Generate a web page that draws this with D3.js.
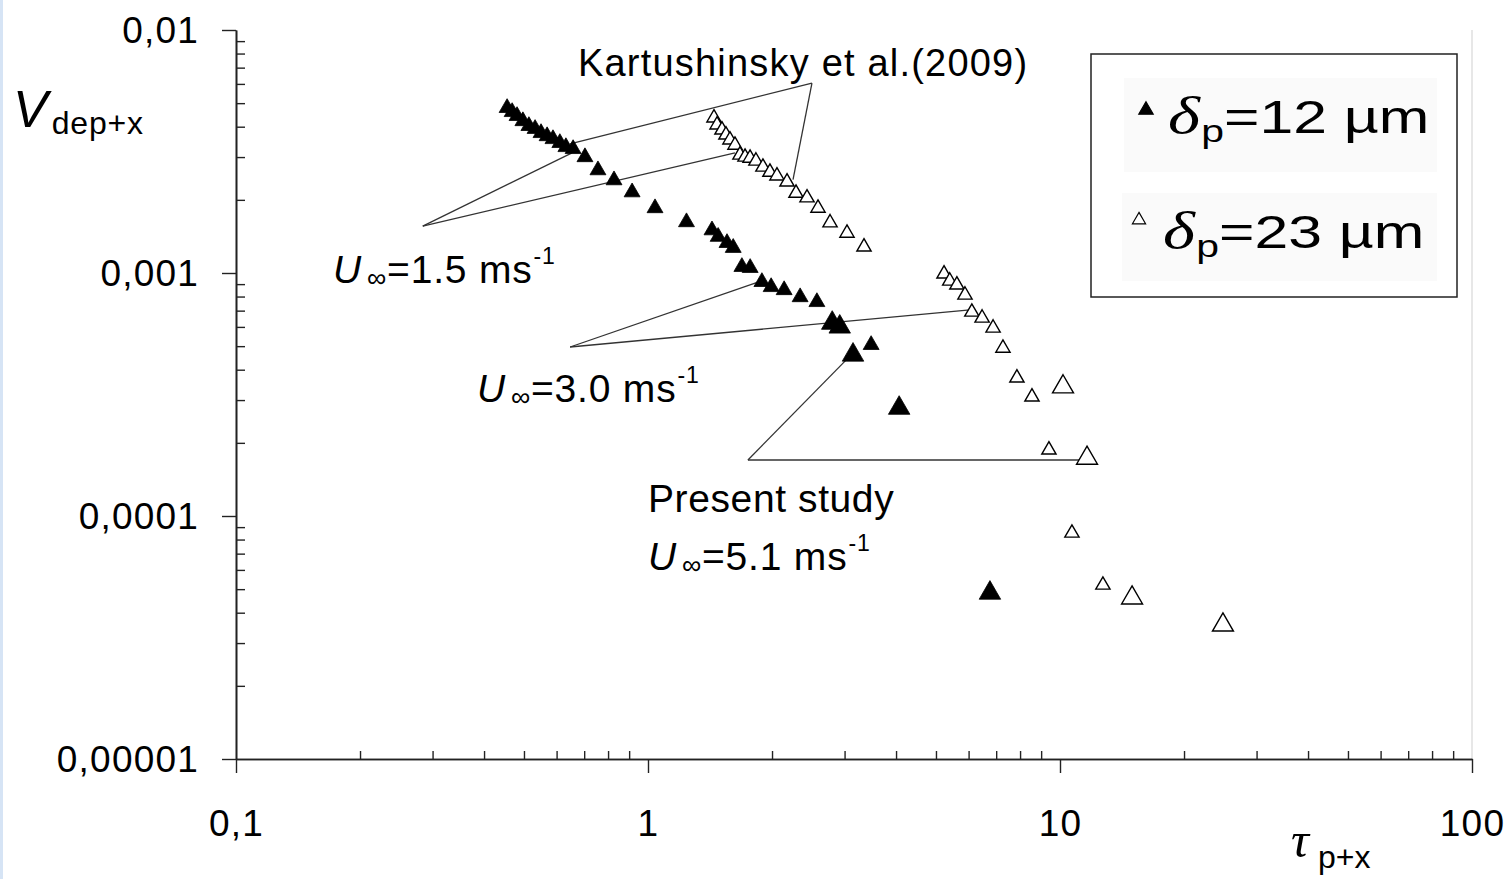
<!DOCTYPE html>
<html>
<head>
<meta charset="utf-8">
<script src="https://cdn.jsdelivr.net/npm/d3@7"></script>
<style>
  body { margin: 0; background: #fff; }
  text { font-family: "Liberation Sans", Arial, sans-serif; fill: #000; }
</style>
</head>
<body>
<div id="wrapper"></div>
<script>
// Kartushinsky et al.(2009), 12 um, U = 1.5 m/s
const k12u15Tau = [0.455, 0.468, 0.481, 0.497, 0.514, 0.532, 0.550, 0.569, 0.588, 0.611, 0.632, 0.658, 0.703, 0.756, 0.827, 0.915, 1.04, 1.24];
const k12u15V = [0.00478, 0.00460, 0.00443, 0.00422, 0.00403, 0.00392, 0.00377, 0.00366, 0.00356, 0.00343, 0.00330, 0.00324, 0.00300, 0.00265, 0.00241, 0.00215, 0.00185, 0.00162];
// Kartushinsky et al.(2009), 12 um, U = 3.0 m/s
const k12u30Tau = [1.43, 1.48, 1.555, 1.61, 1.69, 1.77, 1.89, 1.99, 2.14, 2.34, 2.57, 3.48];
const k12u30V = [0.00150, 0.00141, 0.00133, 0.00127, 0.00106, 0.00105, 0.000919, 0.000876, 0.000851, 0.000796, 0.000760, 0.000506];
// Kartushinsky et al.(2009), 23 um, U = 1.5 m/s
const k23u15Tau = [1.446, 1.471, 1.512, 1.546, 1.581, 1.626, 1.672, 1.72, 1.769, 1.828, 1.901, 1.977, 2.056, 2.175, 2.287, 2.432, 2.586, 2.766, 3.041, 3.344];
const k23u15V = [0.00435, 0.00407, 0.00388, 0.00370, 0.00353, 0.00336, 0.00306, 0.00300, 0.00297, 0.00289, 0.00273, 0.00260, 0.00251, 0.00237, 0.00213, 0.00204, 0.00185, 0.00161, 0.00146, 0.00128];
// Kartushinsky et al.(2009), 23 um, U = 3.0 m/s
const k23u30Tau = [5.23, 5.40, 5.62, 5.88, 6.11, 6.47, 6.88, 7.27, 7.86, 8.55, 9.40, 10.69, 12.71];
const k23u30V = [0.000991, 0.000927, 0.000893, 0.000812, 0.000691, 0.000653, 0.000594, 0.000491, 0.000370, 0.000309, 0.000187, 0.0000851, 0.0000520];
// Present study, U = 5.1 m/s
const p12Tau = [2.80, 2.92, 3.145, 4.07, 6.76];
const p12V = [0.000622, 0.000600, 0.000460, 0.000278, 0.0000482];
const p23Tau = [10.17, 11.63, 14.96, 24.86];
const p23V = [0.000340, 0.000173, 0.0000460, 0.0000356];

const xMajor = [0.1, 1, 10, 100];
const xTickLabels = ["0,1", "1", "10", "100"];
const yMajor = [0.00001, 0.0001, 0.001, 0.01];
const yTickLabels = ["0,00001", "0,0001", "0,001", "0,01"];

// leader lines: apex then the end (data units)
const leaders = [
    [[2.50, 0.00605], [0.647, 0.00340]],
    [[2.50, 0.00605], [2.249, 0.00242]],
    [[0.284, 0.00156], [0.654, 0.00312]],
    [[0.284, 0.00156], [1.626, 0.00312]],
    [[0.647, 0.000496], [1.849, 0.000918]],
    [[0.647, 0.000496], [6.047, 0.000705]],
    [[1.748, 0.000170], [3.024, 0.000438]],
    [[1.748, 0.000170], [11.5, 0.000170]]
];

function drawChart() {
    const dimension = {
        width: 1507,
        height: 879,
        left: 236,
        right: 1472,
        top: 30,
        bottom: 759
    };

    const svg = d3.select("#wrapper").append("svg")
        .attr("width", dimension.width)
        .attr("height", dimension.height);

    // faint blue page edge on the left
    svg.append("rect").attr("x", 0).attr("y", 0).attr("width", 3).attr("height", dimension.height).attr("fill", "#d6e4f5");

    const xScaler = d3.scaleLog().domain([0.1, 100]).range([dimension.left, dimension.right]);
    const yScaler = d3.scaleLog().domain([0.00001, 0.01]).range([dimension.bottom, dimension.top]);

    const xMinor = [], yMinor = [];
    [0.1, 1, 10].forEach(d => d3.range(2, 10).forEach(k => xMinor.push(d * k)));
    [0.00001, 0.0001, 0.001].forEach(d => d3.range(2, 10).forEach(k => yMinor.push(d * k)));

    // right border of plot area
    svg.append("line")
        .attr("x1", xScaler(100)).attr("x2", xScaler(100))
        .attr("y1", yScaler(0.01)).attr("y2", yScaler(0.00001))
        .attr("stroke", "#cfcfcf").attr("stroke-width", 1);

    // minor ticks, inside
    svg.append("g")
        .attr("transform", `translate(0,${dimension.bottom})`)
        .call(d3.axisBottom(xScaler).tickValues(xMinor).tickSize(-8).tickSizeOuter(0).tickFormat(""));
    svg.append("g")
        .attr("transform", `translate(${dimension.left},0)`)
        .call(d3.axisLeft(yScaler).tickValues(yMinor).tickSize(-9).tickSizeOuter(0).tickFormat(""));

    const xAxis = svg.append("g")
        .attr("transform", `translate(0,${dimension.bottom})`)
        .call(d3.axisBottom(xScaler).tickValues(xMajor).tickSize(14).tickSizeOuter(0).tickPadding(37)
            .tickFormat((d, i) => xTickLabels[i]));
    const yAxis = svg.append("g")
        .attr("transform", `translate(${dimension.left},0)`)
        .call(d3.axisLeft(yScaler).tickValues(yMajor).tickSize(14).tickSizeOuter(0).tickPadding(23)
            .tickFormat((d, i) => yTickLabels[i]));

    svg.selectAll(".domain").attr("stroke", "#222").attr("stroke-width", 1.6);
    svg.selectAll(".tick line").attr("stroke", "#222").attr("stroke-width", 1.4);
    [xAxis, yAxis].forEach(a => a.attr("font-family", "Liberation Sans, Arial, sans-serif")
        .attr("font-size", 37).selectAll("text").attr("fill", "#000").attr("letter-spacing", 1.2));
    yAxis.selectAll("text").attr("dy", "0.34em");

    // axis titles
    const yTitle = svg.append("text").attr("x", 13).attr("y", 127);
    yTitle.append("tspan").attr("font-size", 52).attr("font-style", "italic").text("V");
    yTitle.append("tspan").attr("font-size", 32).attr("dx", 4).attr("dy", 7).attr("letter-spacing", 0.8).text("dep+x");

    const xTitle = svg.append("text").attr("x", 1291).attr("y", 857);
    xTitle.append("tspan").attr("font-family", "Liberation Serif, serif").attr("font-style", "italic")
        .attr("font-size", 50).text("τ");
    xTitle.append("tspan").attr("font-size", 32).attr("dx", 9).attr("dy", 11).text("p+x");

    // leader lines
    svg.append("g").selectAll("line")
        .data(leaders)
        .join("line")
        .attr("x1", d => xScaler(d[0][0])).attr("y1", d => yScaler(d[0][1]))
        .attr("x2", d => xScaler(d[1][0])).attr("y2", d => yScaler(d[1][1]))
        .attr("stroke", "#333").attr("stroke-width", 1.3);

    // annotation labels
    svg.append("text").attr("x", xScaler(0.676)).attr("y", yScaler(0.00647))
        .attr("font-size", 38).attr("letter-spacing", 1.2).text("Kartushinsky et al.(2009)");

    function speedLabel(tx, ty, value) {
        const t = svg.append("text").attr("x", xScaler(tx)).attr("y", yScaler(ty))
            .attr("font-size", 39).attr("letter-spacing", 0.8);
        t.append("tspan").attr("font-style", "italic").text("U");
        t.append("tspan").attr("font-size", 27).attr("dx", 5).attr("dy", 4).text("∞");
        t.append("tspan").attr("dy", -4).text("=" + value + " ms");
        t.append("tspan").attr("font-size", 23).attr("dx", 1).attr("dy", -19).text("-1");
    }
    speedLabel(0.172, 0.000909, "1.5");
    speedLabel(0.3846, 0.000294, "3.0");
    svg.append("text").attr("x", xScaler(1)).attr("y", yScaler(0.0001039))
        .attr("font-size", 39).attr("letter-spacing", 0.6).text("Present study");
    speedLabel(1, 0.00006, "5.1");

    // markers
    const triangle = (size) => d3.symbol().type(d3.symbolTriangle).size(size)();
    const series = [
        { tau: k12u15Tau, v: k12u15V, size: 110, filled: true },
        { tau: k12u30Tau, v: k12u30V, size: 110, filled: true },
        { tau: p12Tau, v: p12V, size: 200, filled: true },
        { tau: k23u15Tau, v: k23u15V, size: 88, filled: false },
        { tau: k23u30Tau, v: k23u30V, size: 88, filled: false },
        { tau: p23Tau, v: p23V, size: 190, filled: false }
    ];
    series.forEach(s => {
        svg.append("g").selectAll("path")
            .data(d3.zip(s.tau, s.v))
            .join("path")
            .attr("transform", d => `translate(${xScaler(d[0])},${yScaler(d[1])})`)
            .attr("d", triangle(s.size))
            .attr("fill", s.filled ? "#000" : "#fff")
            .attr("stroke", "#000")
            .attr("stroke-width", s.filled ? 0.8 : 1.4);
    });

    // legend
    const legend = svg.append("g");
    legend.append("rect").attr("x", 1091).attr("y", 54).attr("width", 366).attr("height", 243)
        .attr("fill", "#fff").attr("stroke", "#222").attr("stroke-width", 1.5);
    legend.append("rect").attr("x", 1124).attr("y", 78).attr("width", 313).attr("height", 94).attr("fill", "#fafafa");
    legend.append("rect").attr("x", 1122).attr("y", 193).attr("width", 315).attr("height", 88).attr("fill", "#fafafa");

    const legendItems = [
        { label: "=12 µm", filled: true, mx: 1146, my: 110, tx: 1168, ty: 133 },
        { label: "=23 µm", filled: false, mx: 1139, my: 220, tx: 1163, ty: 248 }
    ];
    legendItems.forEach(it => {
        legend.append("path")
            .attr("transform", `translate(${it.mx},${it.my})`)
            .attr("d", triangle(it.filled ? 90 : 75))
            .attr("fill", it.filled ? "#000" : "#fff").attr("stroke", "#000").attr("stroke-width", 1.2);
        const t = legend.append("text")
            .attr("transform", `translate(${it.tx},${it.ty}) scale(1.32,1)`);
        t.append("tspan").attr("font-family", "Liberation Serif, serif").attr("font-style", "italic")
            .attr("font-size", 52).text("δ");
        t.append("tspan").attr("font-size", 31).attr("dx", 1).attr("dy", 9).text("p");
        t.append("tspan").attr("font-size", 46).attr("dy", -9).text(it.label);
    });
}

drawChart();
</script>
</body>
</html>
